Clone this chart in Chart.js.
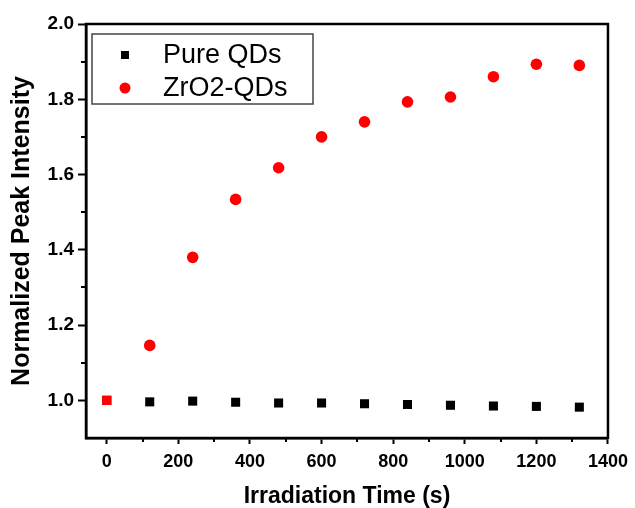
<!DOCTYPE html>
<html>
<head>
<meta charset="utf-8">
<script src="https://cdn.jsdelivr.net/npm/chart.js@4.4.1/dist/chart.umd.min.js"></script>
<style>
  html, body { margin: 0; padding: 0; background: #fff; }
  #wrap { width: 635px; height: 508px; }
</style>
</head>
<body>
<div id="wrap"><canvas id="peak-chart" width="635" height="508"></canvas></div>
<script>
// data
const times = [0, 120, 240, 360, 480, 600, 720, 840, 960, 1080, 1200, 1320];
const pureQDs = [1.000, 0.996, 0.998, 0.995, 0.993, 0.993, 0.991, 0.989, 0.987, 0.985, 0.984, 0.982];
const zro2QDs = [1.000, 1.146, 1.380, 1.534, 1.618, 1.700, 1.740, 1.793, 1.806, 1.860, 1.893, 1.890];
const xMajorTicks = [0, 200, 400, 600, 800, 1000, 1200, 1400];
const xMinorTicks = [100, 300, 500, 700, 900, 1100, 1300];
const yMajorTicks = [1.0, 1.2, 1.4, 1.6, 1.8, 2.0];
const yMinorTicks = [1.1, 1.3, 1.5, 1.7, 1.9];

const FONT = "Arial, 'Liberation Sans', sans-serif";

// frame box + minor ticks
const framePlugin = {
    id: 'frame',
    afterDraw(chart) {
        const { ctx, chartArea: a, scales } = chart;
        ctx.save();
        ctx.strokeStyle = '#000';
        ctx.lineWidth = 2.5;
        ctx.strokeRect(a.left, a.top, a.right - a.left, a.bottom - a.top);

        ctx.lineWidth = 2;
        ctx.beginPath();
        xMinorTicks.forEach(v => {
            const px = Math.round(scales.x.getPixelForValue(v));
            ctx.moveTo(px, a.bottom);
            ctx.lineTo(px, a.bottom + 4);
        });
        yMinorTicks.forEach(v => {
            const py = Math.round(scales.y.getPixelForValue(v));
            ctx.moveTo(a.left, py);
            ctx.lineTo(a.left - 5, py);
        });
        ctx.stroke();
        ctx.restore();
    }
};

// legend box drawn inside the plot
const insideLegend = {
    id: 'insideLegend',
    afterDatasetsDraw(chart) {
        const { ctx, chartArea: a } = chart;
        const boxX = a.left + 6, boxY = a.top + 10, boxW = 221, boxH = 70;
        ctx.save();
        ctx.fillStyle = '#fff';
        ctx.fillRect(boxX, boxY, boxW, boxH);
        ctx.strokeStyle = '#444';
        ctx.lineWidth = 1.5;
        ctx.strokeRect(boxX, boxY, boxW, boxH);

        ctx.font = '27px ' + FONT;
        ctx.textBaseline = 'middle';
        ctx.textAlign = 'left';
        const rows = [boxY + 21, boxY + 54];
        chart.data.datasets.forEach((ds, i) => {
            const cy = rows[i];
            const mx = a.left + 39;
            ctx.fillStyle = ds.backgroundColor;
            if (ds.legendStyle === 'rect') {
                ctx.fillRect(mx - 4, cy - 4, 8, 8);
            } else {
                ctx.beginPath();
                ctx.arc(mx, cy, 5.5, 0, Math.PI * 2);
                ctx.fill();
            }
            ctx.fillStyle = '#000';
            ctx.fillText(ds.label, a.left + 77, cy + 1);
        });
        ctx.restore();
    }
};

const ctx = document.getElementById('peak-chart').getContext('2d');
new Chart(ctx, {
    type: 'scatter',
    data: {
        datasets: [
            {
                label: 'Pure QDs',
                data: times.map((t, i) => ({ x: t, y: pureQDs[i] })),
                backgroundColor: '#000',
                borderWidth: 0,
                pointStyle: 'rect',
                pointRadius: 6.4,
                legendStyle: 'rect',
                order: 1
            },
            {
                label: 'ZrO2-QDs',
                data: times.map((t, i) => ({ x: t, y: zro2QDs[i] })),
                backgroundColor: '#f00',
                borderWidth: 0,
                pointStyle: times.map(t => t === 0 ? 'rect' : 'circle'),
                pointRadius: times.map(t => t === 0 ? 6.6 : 5.8),
                legendStyle: 'circle',
                order: 0
            }
        ]
    },
    options: {
        responsive: false,
        animation: false,
        layout: { padding: { left: 0, top: 24, right: 23, bottom: 0 } },
        plugins: {
            legend: { display: false },
            tooltip: { enabled: false }
        },
        scales: {
            x: {
                type: 'linear',
                min: -58,
                max: 1400,
                afterFit: s => { s.height = 70; },
                afterBuildTicks: s => { s.ticks = xMajorTicks.map(v => ({ value: v })); },
                grid: {
                    drawOnChartArea: false,
                    drawTicks: true,
                    tickLength: 6,
                    tickWidth: 2,
                    tickColor: '#000'
                },
                border: { display: true, color: '#000', width: 2.5 },
                ticks: {
                    color: '#000',
                    padding: 7,
                    maxRotation: 0,
                    font: { family: FONT, size: 18, weight: 'bold' },
                    callback: v => String(v)
                },
                title: {
                    display: true,
                    text: 'Irradiation Time (s)',
                    color: '#000',
                    padding: { top: 0, bottom: 0 },
                    font: { family: FONT, size: 23, weight: 'bold', lineHeight: 1 }
                }
            },
            y: {
                type: 'linear',
                min: 0.9,
                max: 2.0,
                afterFit: s => { s.width = 86; },
                afterBuildTicks: s => { s.ticks = yMajorTicks.map(v => ({ value: v })); },
                grid: {
                    drawOnChartArea: false,
                    drawTicks: true,
                    tickLength: 8,
                    tickWidth: 2,
                    tickColor: '#000'
                },
                border: { display: true, color: '#000', width: 2.5 },
                ticks: {
                    color: '#000',
                    padding: 4,
                    font: { family: FONT, size: 19, weight: 'bold' },
                    callback: v => v.toFixed(1)
                },
                title: {
                    display: true,
                    text: 'Normalized Peak Intensity',
                    color: '#000',
                    padding: { top: 10, bottom: 0 },
                    font: { family: FONT, size: 25, weight: 'bold', lineHeight: 1 }
                }
            }
        }
    },
    plugins: [framePlugin, insideLegend]
});
</script>
</body>
</html>
